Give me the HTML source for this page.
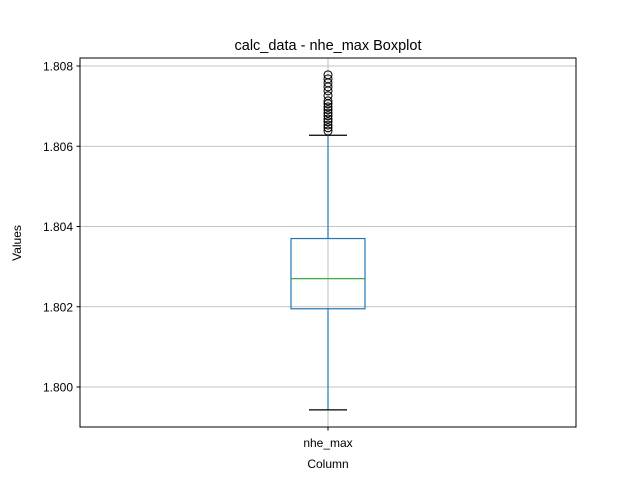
<!DOCTYPE html>
<html><head><meta charset="utf-8"><style>
body{margin:0;background:#fff;font-family:"Liberation Sans",sans-serif}
</style></head><body>
<svg width="640" height="480" xmlns="http://www.w3.org/2000/svg" font-family="Liberation Sans, DejaVu Sans, sans-serif">
<rect width="640" height="480" fill="#fff"/>
<g id="grid"></g>
<g id="box"></g>
<rect x="80" y="58" width="496" height="369" fill="none" stroke="#000" stroke-width="1"/>
<g id="ticks" font-size="12"></g>
<text x="328" y="50" text-anchor="middle" font-size="14.5">calc_data - nhe_max Boxplot</text>
<text x="328" y="468" text-anchor="middle" font-size="12">Column</text>
<text x="21" y="243" text-anchor="middle" font-size="12" transform="rotate(-90 21 243)">Values</text>
<script>
const categories=["nhe_max"];
const whiskerLow=[1.79943];
const q1=[1.80195];
const median=[1.8027];
const q3=[1.8037];
const whiskerHigh=[1.806275];
const outliers=[[1.80778,1.80768,1.80758,1.80748,1.80738,1.80726,1.80713,1.80706,1.80698,1.80691,1.80683,1.80676,1.80668,1.80661,1.80653,1.80646,1.80638]];
const yTicks=[1.800,1.802,1.804,1.806,1.808];
const NS="http://www.w3.org/2000/svg";
const y=v=>66+(1.808-v)*40125;
const x=i=>80+496*(i+1)/(categories.length+1);
function mk(tag,attrs,parent){const e=document.createElementNS(NS,tag);for(const k in attrs)e.setAttribute(k,attrs[k]);parent.appendChild(e);return e;}
const grid=document.getElementById('grid'),box=document.getElementById('box'),tk=document.getElementById('ticks');
yTicks.forEach(t=>{
 const g=mk('line',{x1:80,x2:576,y1:y(t),y2:y(t),stroke:'#b0b0b0','stroke-width':0.8},grid);
 
 
 const l=mk('line',{x1:76.5,x2:80,y1:y(t),y2:y(t),stroke:'#000'},tk);
 
 
 const s=mk('text',{x:73,y:y(t)+4.5,'text-anchor':'end'},tk);s.textContent=t.toFixed(3);
 
 
});
categories.forEach((c,i)=>{
 const cx=x(i);
 const vg=mk('line',{x1:cx,x2:cx,y1:58,y2:427,stroke:'#b0b0b0','stroke-width':0.8},grid);
 
 
 const w=37,cw=19;
 const wl=mk('line',{x1:cx,x2:cx,y1:y(q1[i]),y2:y(whiskerLow[i]),stroke:'#1f77b4','stroke-width':1.2},box);
 
 
 const wh=mk('line',{x1:cx,x2:cx,y1:y(q3[i]),y2:y(whiskerHigh[i]),stroke:'#1f77b4','stroke-width':1.2},box);
 
 
 const cl=mk('line',{x1:cx-cw,x2:cx+cw,y1:y(whiskerLow[i]),y2:y(whiskerLow[i]),stroke:'#000','stroke-width':1.2},box);
 
 
 const ch=mk('line',{x1:cx-cw,x2:cx+cw,y1:y(whiskerHigh[i]),y2:y(whiskerHigh[i]),stroke:'#000','stroke-width':1.2},box);
 
 
 const r=mk('rect',{x:cx-w,y:y(q3[i]),width:2*w,height:y(q1[i])-y(q3[i]),fill:'none',stroke:'#1f77b4','stroke-width':1.2},box);
 
 
 const m=mk('line',{x1:cx-w,x2:cx+w,y1:y(median[i]),y2:y(median[i]),stroke:'#2ca02c','stroke-width':1.2},box);
 
 
 outliers[i].forEach(v=>{
  const o=mk('circle',{cx:cx,cy:y(v),r:4,fill:'none',stroke:'#000','stroke-width':1},box);
  
  
 });
 const t=mk('line',{x1:cx,x2:cx,y1:427,y2:430.5,stroke:'#000'},tk);
 
 
 const s=mk('text',{x:cx,y:447,'text-anchor':'middle'},tk);s.textContent=c;
 
 
});
</script>
</svg>
</body></html>
